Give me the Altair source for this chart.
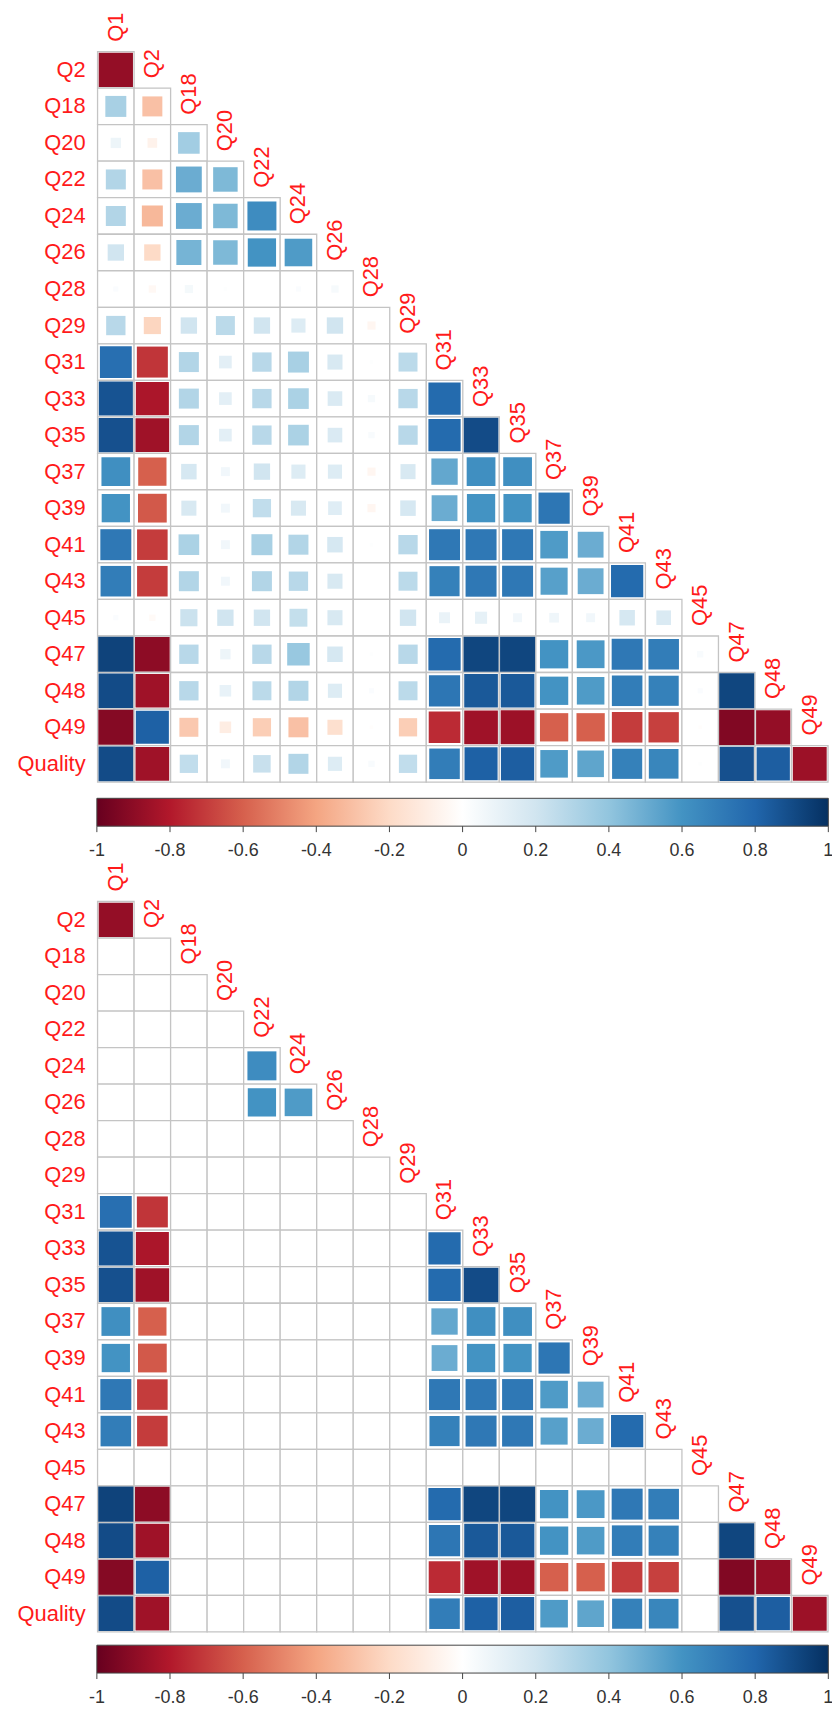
import altair as alt
import pandas as pd

# ---------------- data ----------------
variables = ["Q1", "Q2", "Q18", "Q20", "Q22", "Q24", "Q26", "Q28", "Q29", "Q31", "Q33",
             "Q35", "Q37", "Q39", "Q41", "Q43", "Q45", "Q47", "Q48", "Q49", "Quality"]
row_vars = variables[1:]
col_vars = variables[:-1]

r_Q2 = [-0.88]
r_Q18 = [0.33, -0.30]
r_Q20 = [0.08, -0.07, 0.35]
r_Q22 = [0.30, -0.30, 0.50, 0.45]
r_Q24 = [0.30, -0.33, 0.50, 0.45, 0.63]
r_Q26 = [0.20, -0.20, 0.47, 0.45, 0.60, 0.57]
r_Q28 = [0.02, -0.04, 0.05, 0.01, 0.00, 0.02, 0.04]
r_Q29 = [0.28, -0.22, 0.20, 0.27, 0.20, 0.15, 0.20, -0.05]
r_Q31 = [0.76, -0.72, 0.30, 0.12, 0.28, 0.33, 0.17, 0.01, 0.27]
r_Q33 = [0.87, -0.82, 0.30, 0.12, 0.28, 0.32, 0.16, 0.04, 0.28, 0.78]
r_Q35 = [0.88, -0.85, 0.30, 0.12, 0.28, 0.32, 0.16, 0.03, 0.28, 0.78, 0.90]
r_Q37 = [0.62, -0.60, 0.18, 0.06, 0.20, 0.15, 0.15, -0.05, 0.17, 0.52, 0.62, 0.62]
r_Q39 = [0.60, -0.62, 0.17, 0.06, 0.25, 0.17, 0.14, -0.05, 0.18, 0.50, 0.60, 0.60, 0.73]
r_Q41 = [0.72, -0.70, 0.32, 0.06, 0.33, 0.30, 0.18, 0.01, 0.28, 0.72, 0.72, 0.72, 0.57, 0.50]
r_Q43 = [0.70, -0.70, 0.30, 0.06, 0.30, 0.28, 0.17, 0.00, 0.27, 0.68, 0.72, 0.72, 0.55, 0.50, 0.78]
r_Q45 = [0.02, -0.03, 0.22, 0.20, 0.20, 0.24, 0.17, 0.00, 0.20, 0.09, 0.11, 0.06, 0.07, 0.06, 0.18, 0.16]
r_Q47 = [0.93, -0.90, 0.28, 0.08, 0.28, 0.38, 0.18, 0.01, 0.28, 0.78, 0.92, 0.92, 0.60, 0.58, 0.72, 0.70, 0.03]
r_Q48 = [0.90, -0.85, 0.28, 0.10, 0.27, 0.30, 0.15, 0.02, 0.27, 0.73, 0.85, 0.85, 0.60, 0.57, 0.70, 0.68, 0.02, 0.92]
r_Q49 = [-0.92, 0.82, -0.27, -0.10, -0.25, -0.30, -0.17, -0.01, -0.25, -0.75, -0.85, -0.86, -0.60, -0.60,
         -0.70, -0.69, -0.01, -0.93, -0.88]
r_Quality = [0.90, -0.85, 0.25, 0.06, 0.23, 0.30, 0.15, 0.03, 0.25, 0.70, 0.82, 0.83, 0.57, 0.53, 0.68,
             0.66, 0.01, 0.88, 0.83, -0.86]

corr_lower = [r_Q2, r_Q18, r_Q20, r_Q22, r_Q24, r_Q26, r_Q28, r_Q29, r_Q31, r_Q33, r_Q35, r_Q37,
              r_Q39, r_Q41, r_Q43, r_Q45, r_Q47, r_Q48, r_Q49, r_Quality]

# significance flags (1 = significant, shown in the second matrix)
sig_lower = ["1", "00", "000", "0000", "00001", "000011", "0000000", "00000000",
             "110000000", "1100000001", "11000000011", "110000000111", "1100000001111",
             "11000000011111", "110000000111111", "0000000000000000", "11000000011111110",
             "110000000111111101", "1100000001111111011", "11000000011111110111"]

tick_values = [-1, -0.8, -0.6, -0.4, -0.2, 0, 0.2, 0.4, 0.6, 0.8, 1]
tick_labels = ["-1", "-0.8", "-0.6", "-0.4", "-0.2", "0", "0.2", "0.4", "0.6", "0.8", "1"]
rdbu = ["#67001F", "#B2182B", "#D6604D", "#F4A582", "#FDDBC7", "#FFFFFF",
        "#D1E5F0", "#92C5DE", "#4393C3", "#2166AC", "#053061"]

# ---------------- tables ----------------
recs = []
for i, rv in enumerate(row_vars):
    for j, val in enumerate(corr_lower[i]):
        recs.append({"row": rv, "col": col_vars[j], "r": val, "ar": abs(val),
                     "sig": int(sig_lower[i][j])})
cells = pd.DataFrame(recs)
row_df = pd.DataFrame({"var": row_vars, "anchor": col_vars[0]})
col_df = pd.DataFrame({"var": col_vars})
bar_df = pd.DataFrame({"lo": [tick_values[0]], "hi": [tick_values[-1]]})
tick_df = pd.DataFrame({"t": tick_values, "lab": tick_labels})

# ---------------- style ----------------
FONT = "Liberation Sans"
CELL = 36.7
X0 = 90.0
Y0 = 3.0
LABEL_RED = "#FF1A1A"
cscale = alt.Scale(domain=tick_values, range=rdbu, interpolate="rgb")
sscale = alt.Scale(domain=[0, 1], range=[0, CELL * CELL])
grad = {"gradient": "linear", "x1": 0, "y1": 0, "x2": 1, "y2": 0,
        "stops": [{"offset": k / 10, "color": c} for k, c in enumerate(rdbu)]}


def panel(goff, boff, masked):
    xs = alt.Scale(domain=col_vars, range=[X0, X0 + 20 * CELL], paddingInner=0, paddingOuter=0)
    ys = alt.Scale(domain=variables, range=[Y0 + goff, Y0 + goff + 21 * CELL],
                   paddingInner=0, paddingOuter=0)
    bs = alt.Scale(domain=[-1, 1], range=[89.3, 824.3])

    grid = alt.Chart(cells).mark_rect(fill="white", stroke="#C4C4C4", strokeWidth=1.3).encode(
        x=alt.X("col:N", scale=xs, axis=None),
        y=alt.Y("row:N", scale=ys, axis=None))
    sq_src = cells[cells.sig == 1] if masked else cells
    squares = alt.Chart(sq_src).mark_square(opacity=1, filled=True).encode(
        x=alt.X("col:N", scale=xs, axis=None),
        y=alt.Y("row:N", scale=ys, axis=None),
        color=alt.Color("r:Q", scale=cscale, legend=None),
        size=alt.Size("ar:Q", scale=sscale, legend=None))
    rowlab = alt.Chart(row_df).mark_text(align="right", baseline="middle", dx=-(CELL / 2 + 12),
                                         fontSize=22, font=FONT, color=LABEL_RED).encode(
        x=alt.X("anchor:N", scale=xs, axis=None),
        y=alt.Y("var:N", scale=ys, axis=None),
        text="var:N")
    collab = alt.Chart(col_df).mark_text(align="left", baseline="middle", angle=270,
                                         dx=-(CELL / 2 - 10),
                                         fontSize=22, font=FONT, color=LABEL_RED).encode(
        x=alt.X("var:N", scale=xs, axis=None),
        y=alt.Y("var:N", scale=ys, axis=None),
        text="var:N")
    bar = alt.Chart(bar_df).mark_rect(fill=grad, stroke="#444444", strokeWidth=1).encode(
        x=alt.X("lo:Q", scale=bs, axis=None), x2="hi:Q",
        y=alt.value(790 + boff), y2=alt.value(818 + boff))
    ticks = alt.Chart(tick_df).mark_rule(color="#444444", strokeWidth=1).encode(
        x=alt.X("t:Q", scale=bs, axis=None),
        y=alt.value(818 + boff), y2=alt.value(824 + boff))
    tlabs = alt.Chart(tick_df).mark_text(fontSize=18, font=FONT, baseline="middle",
                                         color="#333333").encode(
        x=alt.X("t:Q", scale=bs, axis=None),
        y=alt.value(843 + boff),
        text="lab:N")
    return [grid, squares, rowlab, collab, bar, ticks, tlabs]


layers = panel(0, 0, False) + panel(854, 851, True)
chart = alt.layer(*layers).resolve_scale(x="independent", y="independent").properties(
    width=828, height=1705, padding=0,
    autosize=alt.AutoSizeParams(type="none")
).configure_view(strokeWidth=0)

chart.save("out.html", embed_options={"renderer": "svg", "actions": False})
